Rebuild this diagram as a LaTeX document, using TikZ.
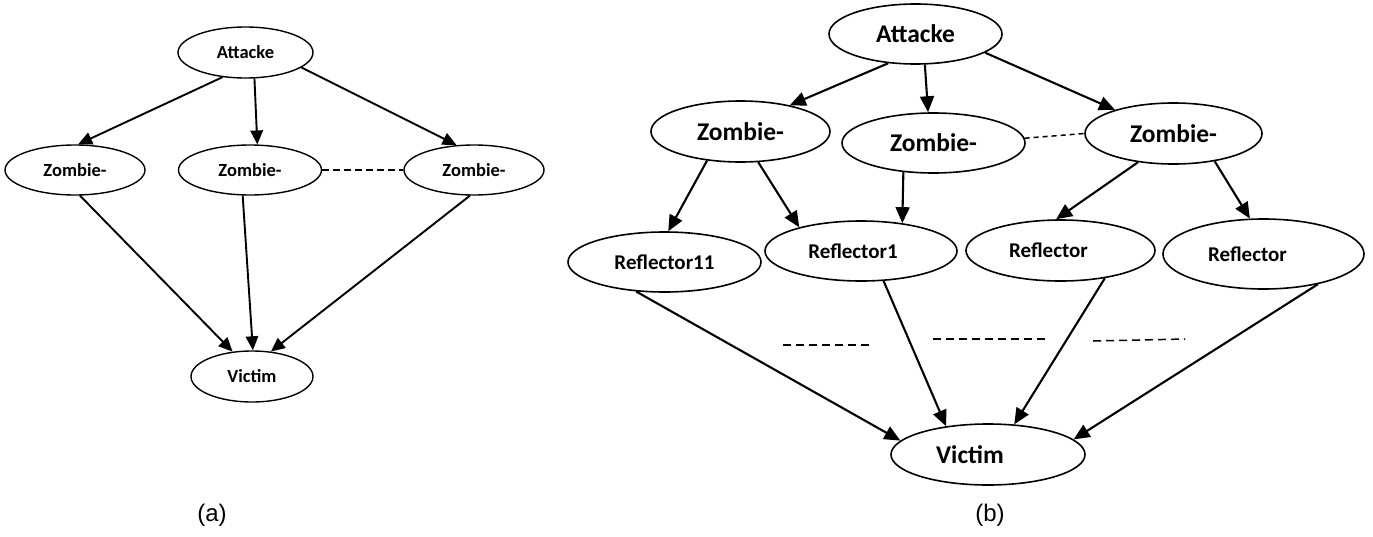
\documentclass[tikz,border=0pt]{standalone}
\usepackage{fontspec}
\setmainfont{Carlito}
\newfontfamily\capfont{Liberation Sans}
\usetikzlibrary{arrows.meta,shapes.geometric}

\tikzset{
  blob/.style={ellipse, draw, line width=1.4pt, inner sep=0pt,
    font=\bfseries\fontsize{18.5}{18.5}\selectfont},
  bigblob/.style={blob, line width=1.6pt, font=\bfseries\fontsize{25.5}{25.5}\selectfont},
  refblob/.style={blob, line width=1.6pt, font=\bfseries\fontsize{21}{21}\selectfont},
  arr/.style={-{Triangle[length=14pt,width=12.5pt]}, line width=1.9pt},
  barr/.style={-{Triangle[length=16pt,width=14pt]}, line width=2.1pt},
  dline/.style={dash pattern=on 8pt off 5pt, line width=1.5pt},
  subcap/.style={font=\capfont\fontsize{24}{24}\selectfont}
}

\begin{document}
\begin{tikzpicture}[x=1pt,y=-1pt]

\useasboundingbox (0,0) rectangle (1373,536);

% (a)
\node [blob, minimum width=135pt, minimum height=51pt] (Aa) at (245.5,52.5) {Attacke};
\foreach \n/\x/\w in {1/75/140pt, 2/250/143pt, 3/474/140pt}
    \node [blob, minimum width=\w, minimum height=50pt] (Za\n) at (\x,170) {Zombie-};
\node [blob, minimum width=122pt, minimum height=51pt] (Va) at (252,376.5) {Victim};

\draw [arr] (Aa.-133.5) -- (Za1.83);
\draw [arr] (Aa.-71.4) -- (Za2.74);
\draw [arr] (Aa.-15.4) -- (Za3.125);
\draw [arr] (Za1.-79) -- (Va.128);
\draw [arr] (Za2.-106) -- (Va.88);
\draw [arr] (Za3.-99) -- (Va.53.5);
\draw [dash pattern=on 7pt off 4pt, line width=1.5pt] (Za2.east) -- (Za3.west);

\node [subcap] (capa) at (212,515) {(a)};

% (b)
\node [bigblob, minimum width=173pt, minimum height=60pt] (Ab) at (915.5,34) {Attacke};
\node [bigblob, minimum width=179pt, minimum height=61pt] (Zb1) at (740.5,131.5) {Zombie-};
\node [bigblob, minimum width=183pt, minimum height=60pt] (Zb2) at (933.5,143) {Zombie-};
\node [bigblob, minimum width=177pt, minimum height=61pt] (Zb3) at (1173.5,133.5) {Zombie-};
\node [refblob, minimum width=193pt, minimum height=60pt] (Rb1) at (664.5,262) {Reflector11};
\node [refblob, minimum width=192pt, minimum height=60pt] (Rb2) at (861,251) {\hspace*{-16pt}Reflector1};
\node [refblob, minimum width=189pt, minimum height=61pt] (Rb3) at (1060.5,250.5) {\hspace*{-24pt}Reflector};
\node [refblob, minimum width=201pt, minimum height=70pt] (Rb4) at (1263.5,254) {\hspace*{-32pt}Reflector};
\node [bigblob, minimum width=194pt, minimum height=61pt] (Vb) at (988,454.5) {\hspace*{-36pt}Victim};

\draw [barr] (Ab.-133) -- (Zb1.28.6);
\draw [barr] (Ab.-73) -- (Zb2.100);
\draw [barr] (Ab.-15.3) -- (Zb3.158.6);
\draw [barr] (Zb1.-139) -- (Rb1.83.3);
\draw [barr] (Zb1.-60) -- (Rb2.159.2);
\draw [barr] (Zb2.-136) -- (Rb2.34.3);
\draw [barr] (Zb3.-141.8) -- (Rb3.98.4);
\draw [barr] (Zb3.-34.6) -- (Rb4.111.3);
\draw [barr] (Rb1.-134.8) -- (Vb.171.7);
\draw [barr] (Rb2.-53) -- (Vb.146.8);
\draw [barr] (Rb3.-32.6) -- (Vb.49.7);
\draw [barr] (Rb4.-29) -- (Vb.10.3);
\draw [dash pattern=on 5pt off 4pt, line width=1.5pt] (Zb2.3) -- (Zb3.west);

\draw [dline] (783,345) -- (873,345);
\draw [dline] (933,339) -- (1047,339);
\draw [dline] (1093,341) -- (1185,339);

\node [subcap] (capb) at (990,515) {(b)};

\end{tikzpicture}
\end{document}
